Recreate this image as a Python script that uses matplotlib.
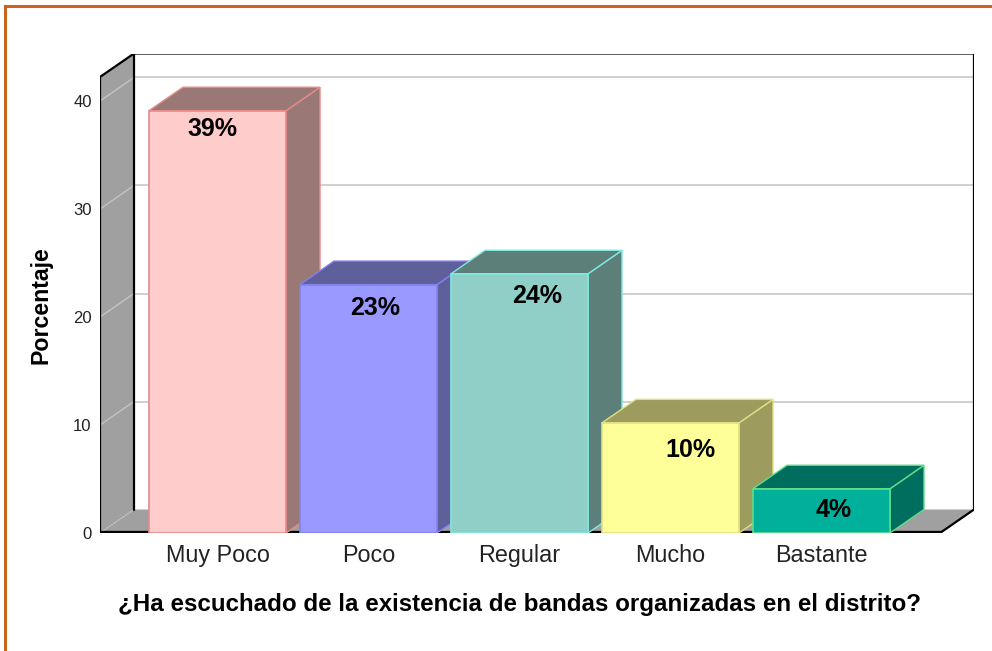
import matplotlib
matplotlib.use("Agg")
import matplotlib.pyplot as plt
from matplotlib.patches import Polygon
from matplotlib.lines import Line2D

categories = ["Muy Poco", "Poco", "Regular", "Mucho", "Bastante"]
values = [39.1, 23.0, 24.0, 10.2, 4.1]
value_labels = ["39%", "23%", "24%", "10%", "4%"]
yticks = [0, 10, 20, 30, 40]
x_title = "¿Ha escuchado de la existencia de bandas organizadas en el distrito?"
y_title = "Porcentaje"

front_colors = ["#FFCCCC", "#9999FF", "#90CEC8", "#FFFF99", "#00B09A"]
shade_colors = ["#9A7875", "#5F5F9C", "#5C7F7A", "#9E9B5E", "#006E5E"]
edge_colors = ["#E88A8A", "#8080F0", "#80E8E0", "#E0E080", "#60DD88"]
label_dx = [-0.03, 0.045, 0.12, 0.13, 0.08]
label_dy = [1.65, 2.2, 2.05, 2.55, 2.0]

plt.rcParams['font.family'] = ['Liberation Sans', 'DejaVu Sans']

W, H = 992, 651
fig = plt.figure(figsize=(W / 100, H / 100), dpi=100)
# axes covering px x 100..974, y 54..533
ax = fig.add_axes([100 / W, (H - 533) / H, 874 / W, (533 - 54) / H])
PXX = 151.0   # px per category
PXY = 10.8    # px per percent
X0 = (100 - 217.5) / PXX
X1 = (940 - 217.5) / PXX
DX = 34 / PXX
DY = 23.5 / PXY
YTOP = (533 - 77) / PXY
ax.set_xlim(X0, (974 - 217.5) / PXX)
ax.set_ylim(0, (533 - 54) / PXY)
for s in ax.spines.values():
    s.set_visible(False)

# back wall
ax.add_patch(Polygon([(X0 + DX, DY), (X1 + DX, DY), (X1 + DX, YTOP + DY), (X0 + DX, YTOP + DY)],
                     closed=True, facecolor="white", edgecolor="none", zorder=1))
# gridlines on back wall and left wall
for v in yticks[1:]:
    ax.plot([X0 + DX, X1 + DX], [v + DY, v + DY], color="#C8C8C8", lw=1.2, zorder=2)
    ax.plot([X0, X0 + DX], [v, v + DY], color="#C4C4C4", lw=1.0, zorder=4)
# left wall
ax.add_patch(Polygon([(X0, 0), (X0 + DX, DY), (X0 + DX, YTOP + DY), (X0, YTOP)],
                     closed=True, facecolor="#A0A0A0", edgecolor="none", zorder=3))
# floor
ax.add_patch(Polygon([(X0, 0), (X1, 0), (X1 + DX, DY), (X0 + DX, DY)],
                     closed=True, facecolor="#A0A0A0", edgecolor="none", zorder=3))
ax.plot([X0, X0 + DX], [0, DY], color="#C8C8C8", lw=1.0, ls=(0, (1, 1)), zorder=4)
# outlines
k = dict(color="black", lw=1.6, zorder=5, solid_capstyle="round")
ax.plot([X0, X0, X0 + DX, X1 + DX, X1 + DX, X1], [0, YTOP, YTOP + DY, YTOP + DY, DY, 0], **k)
ax.plot([X0 + DX, X0 + DX], [DY, YTOP + DY], **k)
ax.plot([X0, X1], [0, 0], color="black", lw=3, zorder=5)

# bars
bw = 137 / PXX
for i, (v, fc, sc, ec) in enumerate(zip(values, front_colors, shade_colors, edge_colors)):
    l, r = i - bw / 2, i + bw / 2
    z = 10 + i
    ax.add_patch(Polygon([(r, 0), (r + DX, DY), (r + DX, v + DY), (r, v)], closed=True,
                         facecolor=sc, edgecolor=ec, lw=1.0, zorder=z))
    ax.add_patch(Polygon([(l, v), (r, v), (r + DX, v + DY), (l + DX, v + DY)], closed=True,
                         facecolor=sc, edgecolor=ec, lw=1.0, zorder=z))
    ax.add_patch(Polygon([(l, 0), (r, 0), (r, v), (l, v)], closed=True,
                         facecolor=fc, edgecolor=ec, lw=1.2, zorder=z))
    ax.text(i + label_dx[i], v - label_dy[i], value_labels[i], ha="center", va="center",
            fontsize=18, fontweight="bold", color="black", zorder=30)

ax.plot([X0, X1], [0, 0], color="black", lw=3, zorder=9)

ax.set_xticks(range(len(categories)))
ax.set_xticklabels(categories, fontsize=16.8, color="#222222")
ax.set_yticks(yticks)
ax.set_yticklabels([str(t) for t in yticks], fontsize=12, color="#222222")
ax.tick_params(axis="x", length=0, pad=8)
ax.tick_params(axis="y", length=0, pad=6)

fig.text(519 / W, 1 - 604.5 / H, x_title, ha="center", va="center", fontsize=17.4, fontweight="bold")
fig.text(41 / W, 1 - 305 / H, y_title, ha="center", va="center", rotation=90,
         fontsize=16.7, fontweight="bold")

# orange frame
fig.add_artist(Line2D([5 / W, 1], [1 - 6 / H, 1 - 6 / H], color="#C8641E", lw=2.2,
                      transform=fig.transFigure))
fig.add_artist(Line2D([5 / W, 5 / W], [0, 1 - 6 / H], color="#C8641E", lw=2.2,
                      transform=fig.transFigure))

fig.savefig("out.png", dpi=100)
